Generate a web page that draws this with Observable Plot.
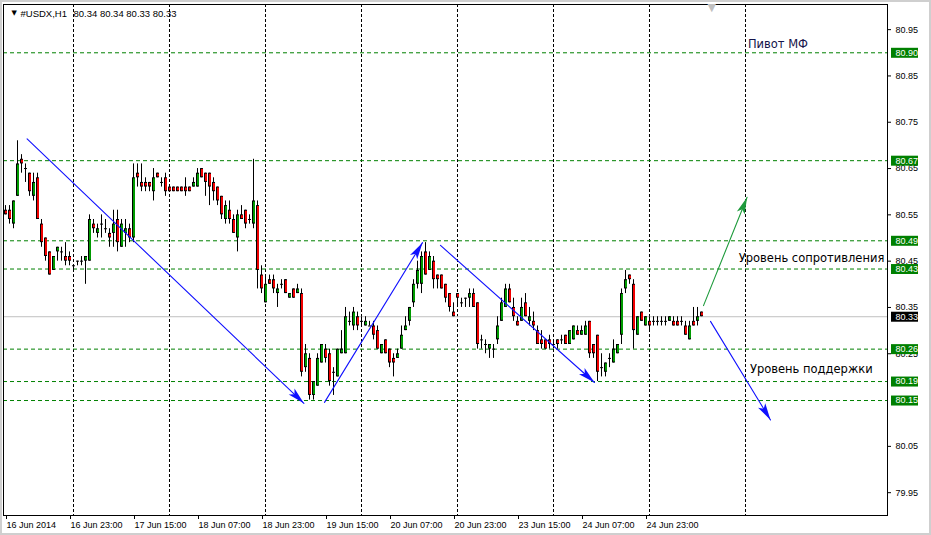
<!DOCTYPE html>
<html><head><meta charset="utf-8">
<script src="https://cdn.jsdelivr.net/npm/d3@7"></script>
<script src="https://cdn.jsdelivr.net/npm/@observablehq/plot@0.6"></script>
<style>
body{margin:0;background:#fff;}
#chart svg{display:block;outline:2px solid #cfcfcf;outline-offset:-2px;}
</style></head><body><div id="chart"></div>
<script>
// ---- data: USDX H1, 175 hourly bars (index 0 = 16 Jun 2014) ----
const opens = [80.56,80.56,80.53,80.59,80.67,80.65,80.64,80.59,80.63,80.53,80.50,80.47,80.43,80.47,80.47,80.46,80.46,80.44,80.45,80.45,
80.45,80.45,80.53,80.51,80.53,80.52,80.51,80.51,80.54,80.48,80.51,80.52,80.50,80.64,80.62,80.62,80.62,80.60,80.64,80.62,
80.63,80.61,80.61,80.61,80.61,80.61,80.61,80.61,80.61,80.65,80.64,80.64,80.62,80.61,80.59,80.54,80.56,80.54,80.50,80.55,
80.56,80.54,80.53,80.57,80.42,80.36,80.41,80.41,80.38,80.40,80.41,80.37,80.39,80.38,80.38,80.22,80.24,80.16,80.18,80.23,
80.26,80.25,80.21,80.20,80.25,80.25,80.32,80.31,80.33,80.32,80.31,80.31,80.31,80.30,80.25,80.28,80.26,80.24,80.24,80.26,
80.30,80.32,80.36,80.40,80.40,80.47,80.43,80.45,80.42,80.42,80.40,80.38,80.34,80.38,80.36,80.37,80.37,80.38,80.36,80.28,
80.27,80.26,80.26,80.28,80.32,80.35,80.39,80.35,80.32,80.32,80.36,80.32,80.32,80.30,80.28,80.28,80.28,80.27,80.28,80.28,
80.29,80.27,80.28,80.30,80.29,80.29,80.32,80.27,80.29,80.22,80.21,80.24,80.23,80.25,80.29,80.39,80.42,80.40,80.29,80.34,
80.31,80.32,80.32,80.32,80.32,80.32,80.32,80.32,80.32,80.32,80.31,80.28,80.32,80.32,80.34];
const highs = [80.57,80.57,80.58,80.71,80.68,80.66,80.64,80.64,80.64,80.54,80.50,80.47,80.46,80.48,80.48,80.49,80.47,80.44,80.45,80.46,
80.46,80.55,80.54,80.53,80.55,80.54,80.52,80.56,80.56,80.54,80.54,80.53,80.66,80.66,80.66,80.63,80.62,80.65,80.64,80.63,
80.64,80.61,80.61,80.61,80.61,80.63,80.61,80.63,80.65,80.65,80.64,80.64,80.63,80.61,80.59,80.58,80.58,80.55,80.56,80.57,
80.56,80.55,80.67,80.58,80.44,80.42,80.42,80.42,80.40,80.41,80.41,80.38,80.39,80.40,80.39,80.27,80.25,80.19,80.25,80.27,
80.27,80.26,80.22,80.26,80.30,80.35,80.34,80.35,80.34,80.33,80.33,80.32,80.32,80.31,80.27,80.28,80.26,80.25,80.26,80.31,
80.33,80.35,80.41,80.45,80.47,80.49,80.47,80.46,80.42,80.42,80.40,80.38,80.36,80.38,80.37,80.37,80.39,80.39,80.36,80.29,
80.28,80.27,80.27,80.33,80.37,80.40,80.40,80.37,80.33,80.37,80.38,80.35,80.34,80.31,80.30,80.28,80.29,80.28,80.28,80.29,
80.29,80.30,80.31,80.31,80.31,80.32,80.32,80.27,80.29,80.25,80.23,80.25,80.28,80.27,80.39,80.43,80.42,80.41,80.33,80.34,
80.33,80.33,80.33,80.33,80.33,80.33,80.33,80.33,80.33,80.33,80.32,80.32,80.35,80.35,80.34];
const lows = [80.55,80.53,80.52,80.59,80.64,80.62,80.59,80.58,80.54,80.48,80.45,80.42,80.43,80.45,80.45,80.44,80.44,80.43,80.44,80.44,
80.40,80.45,80.51,80.50,80.50,80.51,80.48,80.48,80.47,80.48,80.48,80.49,80.49,80.61,80.60,80.60,80.60,80.58,80.63,80.61,
80.59,80.60,80.60,80.60,80.60,80.59,80.60,80.61,80.61,80.63,80.59,80.57,80.58,80.57,80.54,80.53,80.53,80.51,80.47,80.54,
80.52,80.53,80.52,80.39,80.38,80.36,80.40,80.38,80.35,80.39,80.38,80.37,80.37,80.38,80.20,80.21,80.15,80.15,80.18,80.23,
80.23,80.18,80.16,80.20,80.25,80.25,80.31,80.30,80.30,80.31,80.31,80.31,80.28,80.26,80.25,80.25,80.22,80.20,80.24,80.26,
80.30,80.31,80.35,80.39,80.38,80.42,80.43,80.39,80.39,80.39,80.36,80.34,80.33,80.35,80.35,80.35,80.35,80.35,80.26,80.26,
80.25,80.24,80.24,80.27,80.32,80.35,80.36,80.32,80.31,80.32,80.33,80.31,80.30,80.27,80.26,80.26,80.26,80.26,80.26,80.27,
80.27,80.27,80.28,80.29,80.29,80.29,80.24,80.24,80.19,80.20,80.20,80.22,80.23,80.25,80.27,80.38,80.40,80.26,80.29,80.32,
80.31,80.30,80.31,80.31,80.31,80.31,80.32,80.31,80.31,80.31,80.29,80.28,80.31,80.31,80.33];
const closes = [80.55,80.54,80.58,80.66,80.66,80.65,80.60,80.62,80.54,80.49,80.46,80.42,80.46,80.48,80.47,80.45,80.45,80.44,80.45,80.45,
80.46,80.54,80.52,80.52,80.53,80.52,80.50,80.53,80.49,80.53,80.52,80.50,80.63,80.63,80.61,80.61,80.61,80.63,80.63,80.62,
80.60,80.60,80.60,80.60,80.60,80.60,80.60,80.62,80.64,80.63,80.62,80.61,80.60,80.58,80.55,80.57,80.54,80.51,80.55,80.54,
80.53,80.54,80.58,80.43,80.39,80.40,80.40,80.39,80.39,80.40,80.38,80.38,80.37,80.39,80.21,80.25,80.16,80.19,80.24,80.27,
80.24,80.19,80.21,80.26,80.26,80.33,80.32,80.34,80.31,80.32,80.32,80.31,80.29,80.26,80.27,80.25,80.23,80.23,80.25,80.29,
80.31,80.35,80.40,80.43,80.46,80.42,80.46,80.41,80.41,80.39,80.37,80.35,80.33,80.37,80.36,80.37,80.38,80.35,80.27,80.28,
80.27,80.27,80.26,80.31,80.36,80.39,80.36,80.33,80.31,80.35,80.33,80.33,80.31,80.27,80.27,80.26,80.27,80.27,80.27,80.28,
80.27,80.30,80.31,80.29,80.30,80.31,80.25,80.25,80.21,80.22,80.23,80.24,80.26,80.27,80.38,80.41,80.41,80.30,80.33,80.32,
80.33,80.31,80.32,80.32,80.32,80.32,80.33,80.31,80.31,80.32,80.29,80.31,80.31,80.33,80.33];

const symbolName = "#USDX,H1";
const timeTickBars = [0,16,32,48,64,80,96,112,128,144,160];
const timeTickLabels = ["16 Jun 2014","16 Jun 23:00","17 Jun 15:00","18 Jun 07:00","18 Jun 23:00","19 Jun 15:00",
  "20 Jun 07:00","20 Jun 23:00","23 Jun 15:00","24 Jun 07:00","24 Jun 23:00"];
const gridBars = [17,41,65,89,113,137,161,185];
const priceTicks = [79.95,80.05,80.25,80.35,80.45,80.55,80.65,80.75,80.85,80.95];
const levelPrices = [80.900,80.667,80.494,80.433,80.260,80.190,80.149];
const bidPrice = 80.33;

// arrows drawn on the chart (bar index, price)
const arrowFromBar   = [5.4, 79.75, 108.75, 174.5, 176.25];
const arrowFromPrice = [80.714, 80.145, 80.484, 80.354, 80.320];
const arrowToBar     = [74.6, 104.25, 147.25, 185.4, 191.25];
const arrowToPrice   = [80.143, 80.490, 80.188, 80.588, 80.107];
const arrowColors    = ["#1010ff","#1010ff","#1010ff","#1e9b3c","#1010ff"];

// text notes
const noteTexts  = ["Пивот МФ","Уровень сопротивления","Уровень поддержки"];
const noteBars   = [185.6, 183.3, 186.1];
const notePrices = [80.919, 80.456, 80.217];
const noteColors = ["#14144a","#000000","#000000"];

// ---- build ----
const bars = opens.map((o,i)=>({i, o, h: highs[i], l: lows[i], c: closes[i]}));
const bull = bars.filter(d=>d.c>d.o), bear = bars.filter(d=>d.c<d.o), doji = bars.filter(d=>d.c===d.o);
const arrows = arrowFromBar.map((b,k)=>({k, pts:[[b, arrowFromPrice[k]],[arrowToBar[k], arrowToPrice[k]]], color: arrowColors[k]}));
const notes = noteTexts.map((t,k)=>({t, x: noteBars[k], y: notePrices[k], c: noteColors[k]}));
const last = bars[bars.length-1];
const fmt = d3.format(".2f");

function headMarker(color){
  const m = d3.create("svg:marker")
    .attr("viewBox","-18 -5 19 10").attr("markerWidth",19).attr("markerHeight",10)
    .attr("markerUnits","userSpaceOnUse").attr("orient","auto")
    .attr("refX",0).attr("refY",0).attr("fill",color).attr("stroke","none");
  m.append("path").attr("d","M-17,-4.2L0,0L-17,4.2L-13,0Z");
  return m.node();
}

function build(marker){
  return Plot.plot({
    width: 931, height: 535,
    marginLeft: 3, marginRight: 44, marginTop: 4, marginBottom: 20,
    style: {fontFamily: "'Liberation Sans', Arial, sans-serif", fontSize: "9px", background: "#fff", color: "#000"},
    x: {type: "linear", domain: [-0.5, 220.5]},
    y: {type: "linear", domain: [79.9007, 81.0043]},
    marks: [
      Plot.ruleX(gridBars, {x: d=>d, stroke: "#000", strokeDasharray: "3,2"}),
      Plot.ruleY(levelPrices, {y: d=>d, stroke: "#008000", strokeDasharray: "4,3"}),
      Plot.ruleY([bidPrice], {y: d=>d, stroke: "#c0c0c0"}),
      Plot.ruleX(bars, {x: "i", y1: "h", y2: "l", stroke: "#000"}),
      Plot.ruleX(bull.concat(bear), {x: "i", y1: d=>Math.max(d.o,d.c), y2: d=>Math.min(d.o,d.c), stroke: "#000", strokeWidth: 3}),
      Plot.ruleX(bull, {x: "i", y1: "c", y2: "o", stroke: "#009a00", strokeWidth: 2, dx: 0.5, insetTop: 1, insetBottom: 1}),
      Plot.ruleX(bear, {x: "i", y1: "o", y2: "c", stroke: "#f00000", strokeWidth: 2, dx: 0.5, insetTop: 1, insetBottom: 1}),
      Plot.ruleY(doji, {y: "o", x1: d=>d.i-0.25, x2: d=>d.i+0.5, stroke: "#000"}),
      ...arrows.map(a => Plot.line(a.pts, {stroke: a.color, strokeWidth: 1.1, markerEnd: marker})),
      Plot.text(notes, {x: "x", y: "y", text: "t", fill: "c", textAnchor: "start", fontSize: 11.5, fontFamily: "'DejaVu Sans', sans-serif"}),
      Plot.frame({stroke: "#000"}),
      Plot.axisY({anchor: "right", ticks: priceTicks, tickFormat: fmt, tickSize: 3, tickPadding: 5, fontSize: 9}),
      Plot.axisX({anchor: "bottom", ticks: timeTickBars, tickFormat: d => timeTickLabels[timeTickBars.indexOf(d)],
        tickSize: 4, tickPadding: 2, textAnchor: "start", dx: 1, fontSize: 9}),
      Plot.ruleY(levelPrices, {y: d=>d, x1: 221.5, x2: 228.25, stroke: "#008000", strokeWidth: 10}),
      Plot.ruleY([bidPrice], {y: d=>d, x1: 221.5, x2: 228.25, stroke: "#000", strokeWidth: 10}),
      Plot.text(levelPrices.concat([bidPrice]), {y: d=>d, text: fmt, frameAnchor: "right", dx: 8, textAnchor: "start", fill: "#fff", fontSize: 9}),
      Plot.text(["▼"], {frameAnchor: "top-left", dx: 8, dy: 6, fontSize: 7, textAnchor: "start", fill: "#000", fontFamily: "'DejaVu Sans', sans-serif"}),
      Plot.text([symbolName], {frameAnchor: "top-left", dx: 17, dy: 6, textAnchor: "start", fontSize: 9.5}),
      Plot.text([[last.o,last.h,last.l,last.c].map(fmt).join(" ")], {frameAnchor: "top-left", dx: 70, dy: 6, textAnchor: "start", fontSize: 9.5}),
      Plot.text(["▼"], {frameAnchor: "top-left", dx: 704, dy: -1, fontSize: 11, fill: "#c0c0c0", fontFamily: "'DejaVu Sans', sans-serif"})
    ]
  });
}

let chart;
try { chart = build(headMarker); } catch (e) { chart = build("arrow"); }
document.getElementById("chart").append(chart);
</script></body></html>
